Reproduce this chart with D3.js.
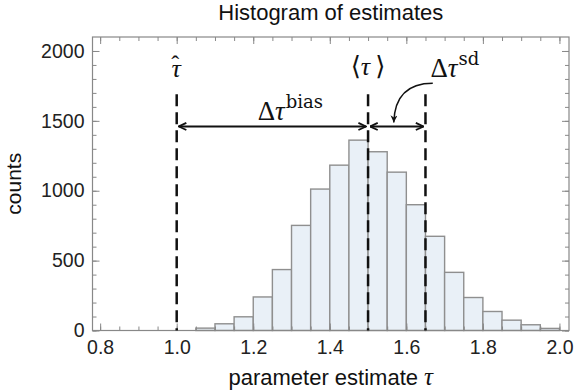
<!DOCTYPE html>
<html>
<head>
<meta charset="utf-8">
<script src="https://cdn.jsdelivr.net/npm/d3@7"></script>
<style>
  body { margin: 0; background: #fff; }
  .math { font-family: "Liberation Serif", "DejaVu Serif", serif; fill: #111; }
  .sup { font-family: "DejaVu Serif", "Liberation Serif", serif; }
</style>
</head>
<body>
<div id="chart"></div>
<script>
var width = 576,
    height = 392;

// histogram bins (lower edges), bin width 0.05
var binStarts = [1.05, 1.10, 1.15, 1.20, 1.25, 1.30, 1.35, 1.40, 1.45, 1.50,
                 1.55, 1.60, 1.65, 1.70, 1.75, 1.80, 1.85, 1.90, 1.95];
var counts = [17, 48, 98, 240, 436, 752, 1012, 1183, 1362, 1279,
              1133, 900, 674, 416, 236, 136, 74, 41, 15];
var binWidth = 0.05;

var xTicks = [0.8, 1.0, 1.2, 1.4, 1.6, 1.8, 2.0];
var yTicks = [0, 500, 1000, 1500, 2000];

var tauHat = 1.0,
    tauMean = 1.5,
    tauSd = 1.65;

var x = d3.scaleLinear()
    .domain([0.78, 2.025])
    .range([92.5, 569]);

var y = d3.scaleLinear()
    .domain([0, 2100])
    .range([330.5, 37]);

var sans = "'Liberation Sans', Arial, sans-serif";

var svg = d3.select("#chart").append("svg")
    .attr("width", width)
    .attr("height", height)
    .style("font-family", sans);

var defs = svg.append("defs");
defs.append("marker")
    .attr("id", "chev")
    .attr("viewBox", "0 0 10 10")
    .attr("refX", 9.5).attr("refY", 5)
    .attr("markerUnits", "userSpaceOnUse")
    .attr("markerWidth", 9).attr("markerHeight", 9)
    .attr("orient", "auto-start-reverse")
  .append("path")
    .attr("d", "M1,1 L9.5,5 L1,9")
    .attr("fill", "none")
    .attr("stroke", "#111")
    .attr("stroke-width", 2);
defs.append("marker")
    .attr("id", "tri")
    .attr("viewBox", "0 0 10 10")
    .attr("refX", 10).attr("refY", 5)
    .attr("markerUnits", "userSpaceOnUse")
    .attr("markerWidth", 12).attr("markerHeight", 7)
    .attr("orient", "auto")
  .append("path")
    .attr("d", "M0,0 L10,5 L0,10 L3,5 Z")
    .attr("fill", "#111");

// bars
svg.append("g").selectAll("rect")
    .data(counts)
  .enter().append("rect")
    .attr("x", function(d, i) { return x(binStarts[i]); })
    .attr("width", function(d, i) { return x(binStarts[i] + binWidth) - x(binStarts[i]); })
    .attr("y", function(d) { return y(d); })
    .attr("height", function(d) { return y(0) - y(d); })
    .attr("fill", "#e9f0f7")
    .attr("stroke", "#8f8f8f")
    .attr("stroke-width", 1.4);

// axes, ticks pointing inward on all four sides
function styleAxis(g) {
  g.attr("font-family", sans);
  g.select(".domain").remove();
  g.selectAll(".tick line").attr("stroke", "#888").attr("stroke-width", 1);
  g.selectAll(".tick text").attr("fill", "#222").style("font-size", "19.5px");
}

var xMinor = d3.range(0.8, 2.001, 0.05);
var yMinor = d3.range(0, 2001, 100);

svg.append("g")
    .attr("transform", "translate(0," + y(0) + ")")
    .call(d3.axisBottom(x).tickValues(xMinor).tickSize(-4).tickFormat(""))
    .call(styleAxis);
svg.append("g")
    .attr("transform", "translate(0," + y(0) + ")")
    .call(d3.axisBottom(x).tickValues(xTicks).tickSize(-7).tickPadding(10).tickFormat(d3.format(".1f")))
    .call(styleAxis);
svg.append("g")
    .attr("transform", "translate(0," + y.range()[1] + ")")
    .call(d3.axisTop(x).tickValues(xMinor).tickSize(-4).tickFormat(""))
    .call(styleAxis);
svg.append("g")
    .attr("transform", "translate(0," + y.range()[1] + ")")
    .call(d3.axisTop(x).tickValues(xTicks).tickSize(-7).tickFormat(""))
    .call(styleAxis);

svg.append("g")
    .attr("transform", "translate(" + x.range()[0] + ",0)")
    .call(d3.axisLeft(y).tickValues(yMinor).tickSize(-4).tickFormat(""))
    .call(styleAxis);
svg.append("g")
    .attr("transform", "translate(" + x.range()[0] + ",0)")
    .call(d3.axisLeft(y).tickValues(yTicks).tickSize(-7).tickPadding(8).tickFormat(d3.format("d")))
    .call(styleAxis);
svg.append("g")
    .attr("transform", "translate(" + x.range()[1] + ",0)")
    .call(d3.axisRight(y).tickValues(yMinor).tickSize(-4).tickFormat(""))
    .call(styleAxis);
svg.append("g")
    .attr("transform", "translate(" + x.range()[1] + ",0)")
    .call(d3.axisRight(y).tickValues(yTicks).tickSize(-7).tickFormat(""))
    .call(styleAxis);

svg.append("rect")
    .attr("x", x.range()[0])
    .attr("y", y.range()[1])
    .attr("width", x.range()[1] - x.range()[0])
    .attr("height", y.range()[0] - y.range()[1])
    .attr("fill", "none")
    .attr("stroke", "#888")
    .attr("stroke-width", 1.2);

// dashed marker lines
var dashTop = 1690;
svg.append("g").selectAll("line")
    .data([tauHat, tauMean, tauSd])
  .enter().append("line")
    .attr("x1", function(d) { return x(d); })
    .attr("x2", function(d) { return x(d); })
    .attr("y1", y(dashTop))
    .attr("y2", y(0))
    .attr("stroke", "#111")
    .attr("stroke-width", 2.5)
    .attr("stroke-dasharray", "12,6");

// double arrows
var arrowY = y(1460);
[[tauHat, tauMean], [tauMean, tauSd]].forEach(function(p) {
  svg.append("line")
      .attr("x1", x(p[0]) + 2)
      .attr("x2", x(p[1]) - 2)
      .attr("y1", arrowY)
      .attr("y2", arrowY)
      .attr("stroke", "#111")
      .attr("stroke-width", 2)
      .attr("marker-start", "url(#chev)")
      .attr("marker-end", "url(#chev)");
});

// curved pointer to the sd arrow
var sdMid = x((tauMean + tauSd) / 2);
svg.append("path")
    .attr("d", "M" + (sdMid + 36) + "," + (y(dashTop) - 11) +
               " C" + (sdMid + 16) + "," + (y(dashTop) - 11) +
               " " + (sdMid - 2) + "," + (y(dashTop) - 3) +
               " " + (sdMid - 3) + "," + (arrowY - 4))
    .attr("fill", "none")
    .attr("stroke", "#111")
    .attr("stroke-width", 1.5)
    .attr("marker-end", "url(#tri)");

// math labels
var hat = svg.append("text").attr("class", "math")
    .attr("x", x(tauHat) - 5.5)
    .attr("y", 77)
    .style("font-size", "26px");
hat.append("tspan").style("font-style", "italic").text("τ");
hat.append("tspan").attr("dx", -9.5).attr("dy", -5).style("font-size", "24px").text("ˆ");

var mean = svg.append("text").attr("class", "math")
    .attr("x", x(tauMean))
    .attr("y", 75)
    .attr("text-anchor", "middle")
    .style("font-size", "26px");
mean.append("tspan").text("⟨");
mean.append("tspan").style("font-style", "italic").text("τ");
mean.append("tspan").text("\u2009⟩");

var bias = svg.append("text").attr("class", "math")
    .attr("x", x((tauHat + tauMean) / 2) + 18)
    .attr("y", 120)
    .attr("text-anchor", "middle")
    .style("font-size", "27px");
bias.append("tspan").text("Δ");
bias.append("tspan").style("font-style", "italic").text("τ");
bias.append("tspan").attr("class", "sup").attr("dx", 1).attr("dy", -12).style("font-size", "18px").text("bias");

var sd = svg.append("text").attr("class", "math")
    .attr("x", x(tauSd) + 5)
    .attr("y", 77)
    .attr("text-anchor", "start")
    .style("font-size", "27px");
sd.append("tspan").text("Δ");
sd.append("tspan").style("font-style", "italic").text("τ");
sd.append("tspan").attr("class", "sup").attr("dx", 1).attr("dy", -12).style("font-size", "18px").text("sd");

// titles
svg.append("text")
    .attr("x", (x.range()[0] + x.range()[1]) / 2)
    .attr("y", 20)
    .attr("text-anchor", "middle")
    .attr("fill", "#111")
    .style("font-size", "22px")
    .text("Histogram of estimates");

var xl = svg.append("text")
    .attr("x", (x.range()[0] + x.range()[1]) / 2)
    .attr("y", 385)
    .attr("text-anchor", "middle")
    .attr("fill", "#111")
    .style("font-size", "22px");
xl.append("tspan").text("parameter estimate ");
xl.append("tspan").attr("class", "math").style("font-style", "italic").style("font-size", "25px").text("τ");

svg.append("text")
    .attr("transform", "translate(21," + ((y.range()[0] + y.range()[1]) / 2) + ") rotate(-90)")
    .attr("text-anchor", "middle")
    .attr("fill", "#111")
    .style("font-size", "21px")
    .text("counts");
</script>
</body>
</html>
